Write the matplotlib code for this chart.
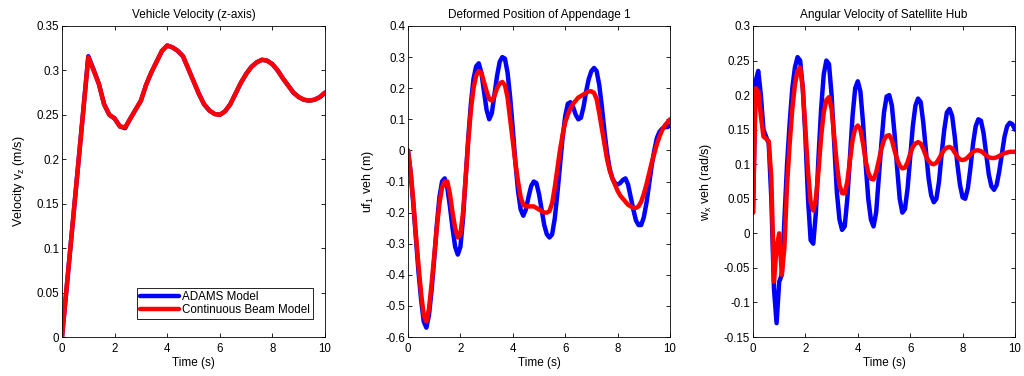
import numpy as np
import matplotlib
matplotlib.use("Agg")
import matplotlib.pyplot as plt
from matplotlib.ticker import FuncFormatter, MultipleLocator

plt.rcParams['font.family'] = ['Liberation Sans', 'DejaVu Sans']
plt.rcParams['axes.unicode_minus'] = False

# ---------------- data ----------------
t_vel = [i * 0.2 for i in range(51)]
vel_adams = [0, 0.063, 0.126, 0.189, 0.252, 0.316, 0.301, 0.285, 0.262, 0.250,
             0.246, 0.237, 0.235, 0.246, 0.256, 0.266, 0.284, 0.298, 0.310, 0.322,
             0.328, 0.326, 0.322, 0.316, 0.302, 0.288, 0.274, 0.262, 0.255, 0.251,
             0.250, 0.254, 0.262, 0.274, 0.286, 0.296, 0.304, 0.309, 0.312, 0.311,
             0.307, 0.300, 0.291, 0.283, 0.275, 0.270, 0.267, 0.266, 0.267, 0.270,
             0.275]
vel_beam = [0, 0.063, 0.126, 0.189, 0.252, 0.315, 0.300, 0.285, 0.262, 0.250,
            0.246, 0.237, 0.236, 0.246, 0.256, 0.266, 0.284, 0.298, 0.310, 0.322,
            0.328, 0.326, 0.322, 0.316, 0.302, 0.288, 0.274, 0.262, 0.255, 0.251,
            0.250, 0.254, 0.262, 0.274, 0.286, 0.296, 0.304, 0.309, 0.312, 0.311,
            0.307, 0.300, 0.291, 0.283, 0.275, 0.270, 0.267, 0.266, 0.267, 0.270,
            0.275]

t_fine = [i * 0.1 for i in range(101)]
pos_adams = [0.00, -0.07, -0.17, -0.28, -0.39, -0.48, -0.55, -0.57, -0.53, -0.45,
             -0.35, -0.24, -0.15, -0.10, -0.09, -0.12, -0.18, -0.25, -0.31, -0.335,
             -0.31, -0.22, -0.09, 0.04, 0.15, 0.23, 0.27, 0.28, 0.25, 0.19,
             0.13, 0.10, 0.12, 0.18, 0.24, 0.285, 0.30, 0.295, 0.25, 0.17,
             0.07, -0.04, -0.13, -0.19, -0.21, -0.19, -0.15, -0.115, -0.10, -0.105,
             -0.14, -0.19, -0.24, -0.27, -0.28, -0.27, -0.22, -0.14, -0.05, 0.04,
             0.11, 0.15, 0.155, 0.14, 0.115, 0.10, 0.105, 0.14, 0.19, 0.23,
             0.255, 0.265, 0.255, 0.21, 0.14, 0.06, -0.01, -0.06, -0.09, -0.105,
             -0.11, -0.105, -0.095, -0.09, -0.11, -0.15, -0.19, -0.225, -0.24, -0.24,
             -0.215, -0.17, -0.11, -0.05, 0.00, 0.04, 0.06, 0.07, 0.075, 0.075,
             0.08]
pos_beam = [0.00, -0.07, -0.16, -0.27, -0.37, -0.46, -0.53, -0.55, -0.51, -0.43,
            -0.34, -0.25, -0.17, -0.12, -0.10, -0.10, -0.14, -0.20, -0.25, -0.28,
            -0.27, -0.20, -0.09, 0.03, 0.13, 0.20, 0.24, 0.255, 0.25, 0.22,
            0.19, 0.165, 0.16, 0.175, 0.20, 0.215, 0.22, 0.21, 0.17, 0.10,
            0.03, -0.04, -0.10, -0.15, -0.175, -0.18, -0.18, -0.18, -0.18, -0.185,
            -0.19, -0.195, -0.20, -0.20, -0.195, -0.17, -0.12, -0.06, 0.00, 0.05,
            0.09, 0.115, 0.135, 0.15, 0.16, 0.17, 0.175, 0.18, 0.185, 0.19,
            0.19, 0.185, 0.165, 0.12, 0.07, 0.02, -0.03, -0.065, -0.09, -0.11,
            -0.13, -0.145, -0.155, -0.165, -0.175, -0.18, -0.185, -0.185, -0.18, -0.165,
            -0.14, -0.11, -0.075, -0.04, -0.01, 0.02, 0.045, 0.065, 0.08, 0.09,
            0.10]

ang_adams = [0.03, 0.22, 0.235, 0.20, 0.15, 0.14, 0.13, 0.05, -0.08, -0.13,
             -0.07, -0.06, 0.02, 0.10, 0.16, 0.21, 0.24, 0.255, 0.25, 0.21,
             0.14, 0.05, -0.01, -0.015, 0.03, 0.11, 0.18, 0.23, 0.25, 0.245,
             0.20, 0.13, 0.06, 0.02, 0.005, 0.01, 0.05, 0.11, 0.17, 0.21,
             0.22, 0.205, 0.16, 0.10, 0.05, 0.02, 0.01, 0.03, 0.08, 0.13,
             0.175, 0.198, 0.20, 0.185, 0.145, 0.095, 0.05, 0.03, 0.035, 0.065,
             0.11, 0.155, 0.185, 0.195, 0.19, 0.16, 0.12, 0.08, 0.055, 0.045,
             0.05, 0.075, 0.115, 0.15, 0.175, 0.18, 0.17, 0.14, 0.10, 0.07,
             0.052, 0.05, 0.065, 0.095, 0.13, 0.155, 0.165, 0.163, 0.145, 0.115,
             0.085, 0.068, 0.063, 0.07, 0.09, 0.115, 0.14, 0.155, 0.16, 0.158,
             0.15]
ang_beam = [0.03, 0.21, 0.205, 0.17, 0.14, 0.137, 0.133, 0.08, -0.07, -0.02,
            0.0, -0.06, -0.02, 0.07, 0.13, 0.18, 0.215, 0.235, 0.24, 0.21,
            0.15, 0.09, 0.045, 0.033, 0.05, 0.09, 0.14, 0.175, 0.193, 0.197,
            0.18, 0.14, 0.10, 0.07, 0.058, 0.058, 0.075, 0.105, 0.135, 0.152,
            0.156, 0.15, 0.13, 0.105, 0.088, 0.079, 0.078, 0.088, 0.105, 0.122,
            0.135, 0.141, 0.142, 0.135, 0.12, 0.107, 0.098, 0.094, 0.095, 0.103,
            0.115, 0.125, 0.13, 0.132, 0.13, 0.122, 0.112, 0.105, 0.101, 0.10,
            0.102, 0.108, 0.115, 0.121, 0.124, 0.125, 0.123, 0.117, 0.111, 0.107,
            0.106, 0.107, 0.11, 0.114, 0.118, 0.12, 0.12, 0.119, 0.116, 0.113,
            0.11, 0.109, 0.109, 0.11, 0.112, 0.114, 0.116, 0.117, 0.118, 0.118,
            0.118]

titles = ["Vehicle Velocity (z-axis)", "Deformed Position of Appendage 1",
          "Angular Velocity of Satellite Hub"]
ylabels = [r"Velocity v$_\mathregular{z}$ (m/s)", r"uf$_\mathregular{1}$ veh (m)",
           r"w$_\mathregular{x}$ veh (rad/s)"]
xlabel = "Time (s)"
legend_labels = ["ADAMS Model", "Continuous Beam Model"]
ylims = [(0, 0.35), (-0.6, 0.4), (-0.15, 0.3)]
ysteps = [0.05, 0.1, 0.05]

# ---------------- figure ----------------
fig = plt.figure(figsize=(10.24, 3.76), dpi=100)
W, H = 1024, 376
boxes = [(62, 325), (408, 670), (753, 1015)]
top_px, bot_px = 26, 337

series = [(t_vel, vel_adams, vel_beam), (t_fine, pos_adams, pos_beam),
          (t_fine, ang_adams, ang_beam)]

fmt = FuncFormatter(lambda v, p: ("%g" % round(v, 6)))

for i, (l, r) in enumerate(boxes):
    ax = fig.add_axes([l / W, (H - bot_px) / H, (r - l) / W, (bot_px - top_px) / H])
    t, a, b = series[i]
    ax.plot(t, a, color=(0, 0, 1), lw=3.2, label=legend_labels[0], solid_capstyle='round')
    ax.plot(t, b, color=(1, 0, 0), lw=3.2, label=legend_labels[1], solid_capstyle='round')
    ax.set_xlim(0, 10)
    ax.set_ylim(*ylims[i])
    ax.xaxis.set_major_locator(MultipleLocator(2))
    ax.yaxis.set_major_locator(MultipleLocator(ysteps[i]))
    ax.xaxis.set_major_formatter(fmt)
    ax.yaxis.set_major_formatter(fmt)
    ax.tick_params(direction='in', top=True, right=True, length=3, width=0.6,
                   labelsize=8.3)
    ax.tick_params(axis='x', pad=4)
    ax.tick_params(axis='y', pad=2)
    for s in ax.spines.values():
        s.set_linewidth(0.6)
    ax.set_title(titles[i], fontsize=8.5, pad=6)
    ax.set_xlabel(xlabel, fontsize=8.5, labelpad=2)
    ax.set_ylabel(ylabels[i], fontsize=9, labelpad=7)
    if i == 0:
        leg = ax.legend(loc='lower right', bbox_to_anchor=(0.954, 0.058),
                        borderaxespad=0, fontsize=8.4, fancybox=False,
                        edgecolor='black', framealpha=1, handlelength=3.3,
                        labelspacing=0.1, handletextpad=0.3, borderpad=0.25)
        leg.get_frame().set_linewidth(0.6)

fig.savefig("out.png", dpi=100, facecolor='white')
